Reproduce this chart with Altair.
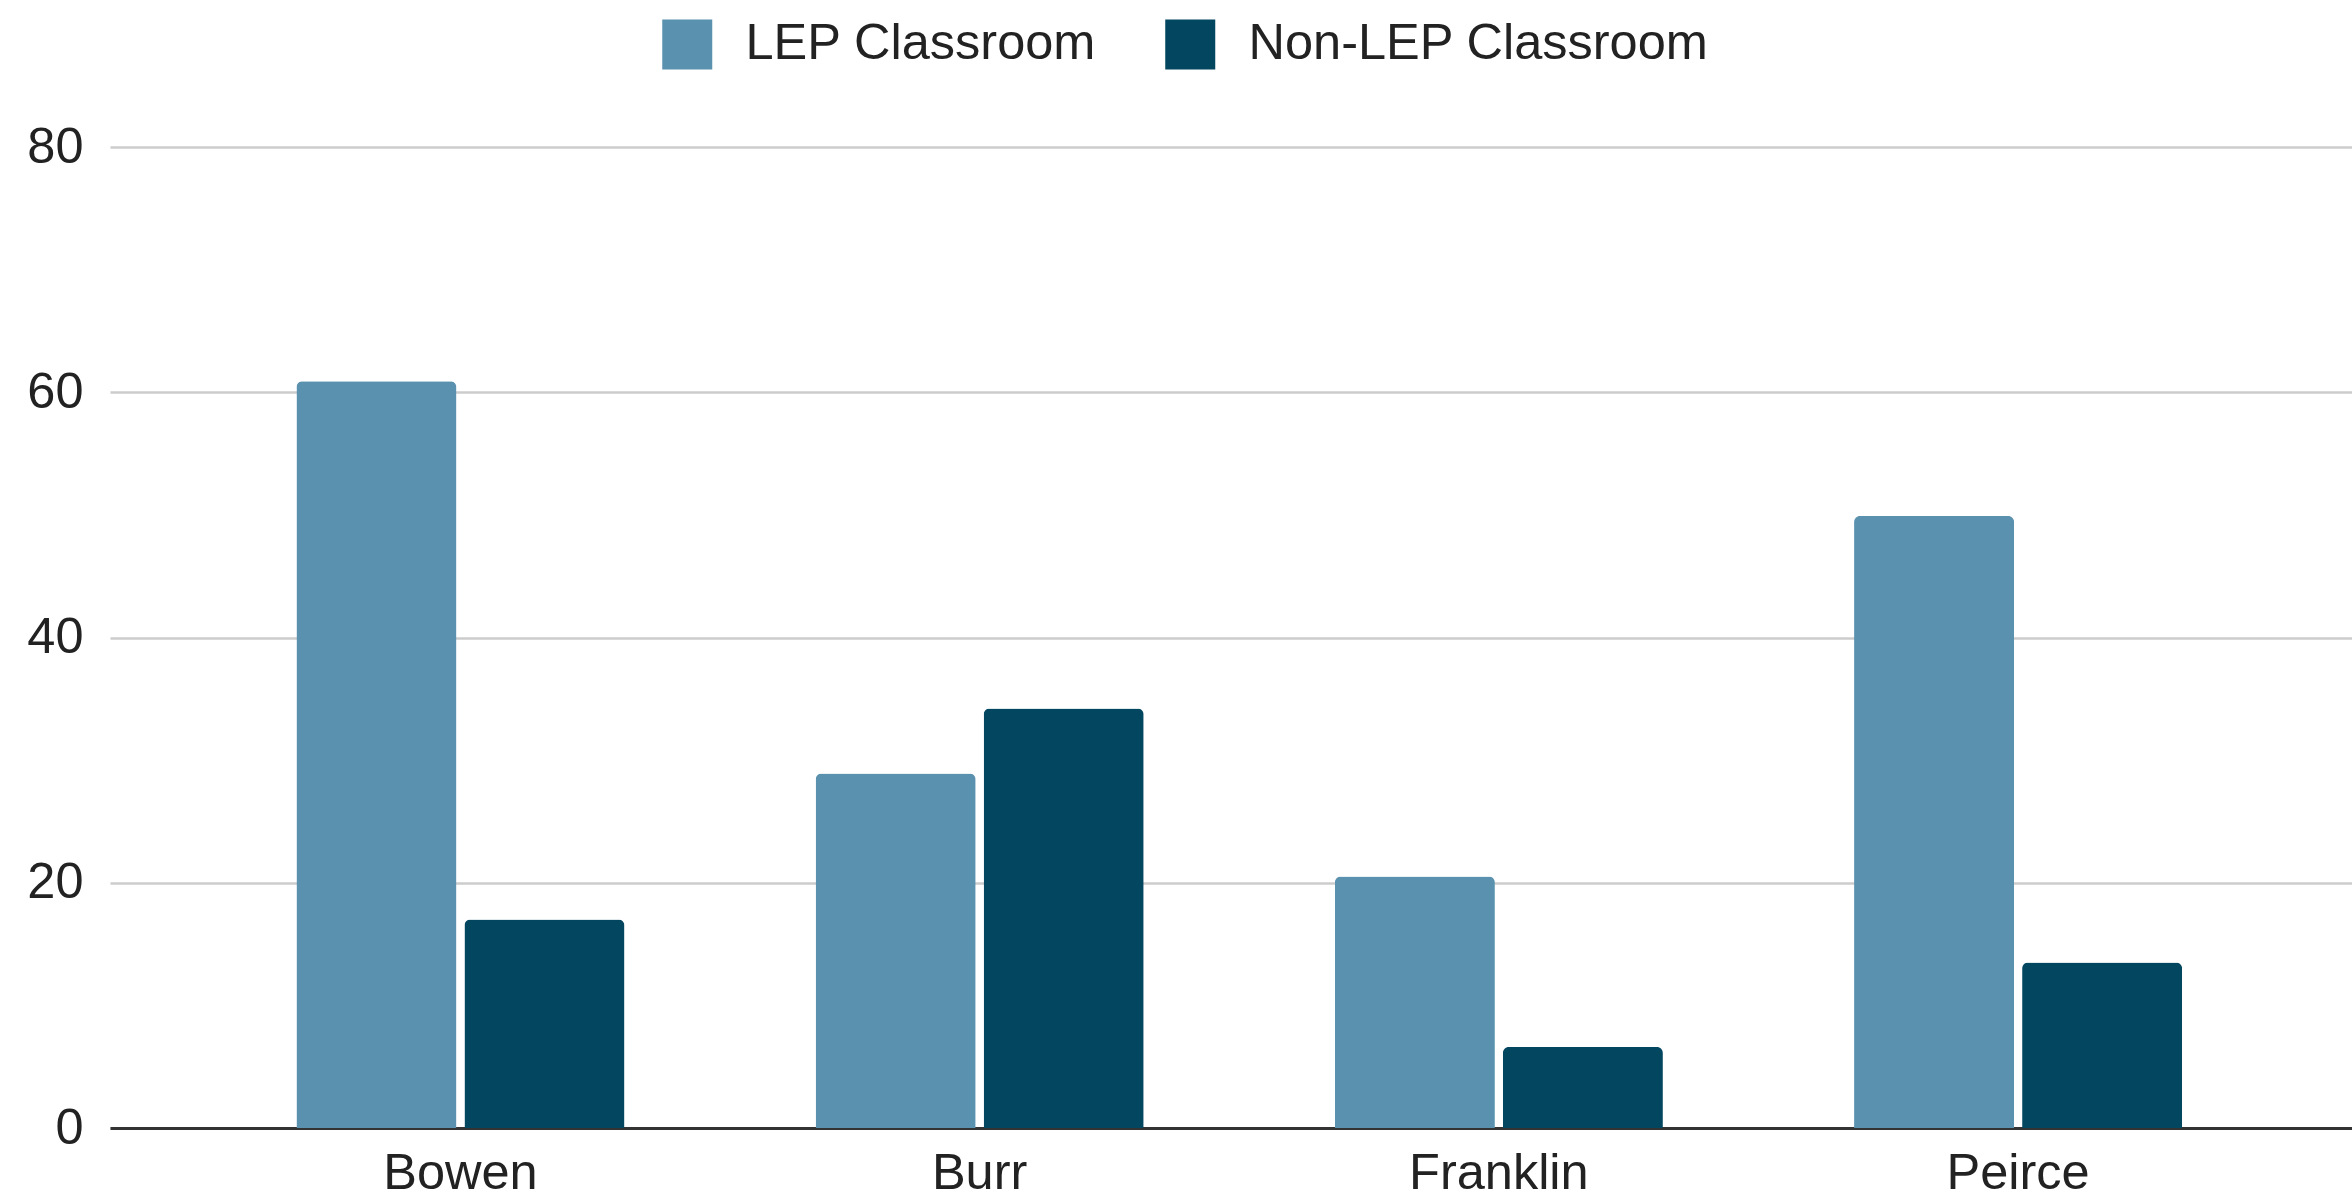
import altair as alt
import pandas as pd

schools = ["Bowen", "Burr", "Franklin", "Peirce"]
series = ["LEP Classroom", "Non-LEP Classroom"]
lep_values = [60.9, 28.9, 20.5, 49.9]
non_lep_values = [17.0, 34.2, 6.6, 13.5]
y_ticks = [0, 20, 40, 60, 80]
colors = ["#5A91AE", "#03465F"]

rows = []
for s, a, b in zip(schools, lep_values, non_lep_values):
    rows.append({"school": s, "series": series[0], "value": a})
    rows.append({"school": s, "series": series[1], "value": b})
df = pd.DataFrame(rows)

FONT = "Liberation Sans"
FS = 50.5

chart = (
    alt.Chart(df)
    .mark_bar(cornerRadiusTopLeft=6, cornerRadiusTopRight=6)
    .encode(
        x=alt.X(
            "school:N",
            sort=schools,
            title=None,
            scale=alt.Scale(paddingInner=0, paddingOuter=0.159, align=0.55),
            axis=alt.Axis(
                labelAngle=0,
                ticks=False,
                tickSize=0,
                domain=True,
                domainColor="#333333",
                domainWidth=3,
                labelFont=FONT,
                labelFontSize=FS,
                labelColor="#222222",
                labelBaseline="alphabetic",
                labelPadding=60,
                grid=False,
            ),
        ),
        xOffset=alt.XOffset(
            "series:N",
            sort=series,
            scale=alt.Scale(paddingInner=0.0476, paddingOuter=0.569),
        ),
        y=alt.Y(
            "value:Q",
            title=None,
            scale=alt.Scale(domain=[0, 80], nice=False),
            axis=alt.Axis(
                values=y_ticks,
                domain=False,
                ticks=False,
                tickSize=0,
                grid=True,
                gridColor="#cccccc",
                gridWidth=2.5,
                labelFont=FONT,
                labelFontSize=FS,
                labelColor="#222222",
                labelPadding=27,
                labelBaseline="middle",
            ),
        ),
        color=alt.Color(
            "series:N",
            sort=series,
            scale=alt.Scale(domain=series, range=colors),
            legend=alt.Legend(
                title=None,
                orient="none",
                direction="horizontal",
                legendX=552,
                legendY=-128,
                symbolType="square",
                symbolSize=2500,
                symbolStrokeWidth=0,
                labelFont=FONT,
                labelFontSize=FS,
                labelColor="#222222",
                labelLimit=1000,
                labelOffset=33,
                columnPadding=68,
            ),
        ),
    )
    .properties(
        width=2242,
        height=981,
        autosize=alt.AutoSizeParams(type="none"),
        padding={"left": 110, "top": 147, "right": 0, "bottom": 72},
        background="white",
    )
    .configure_view(stroke="transparent")
)

chart.save("out.html", embed_options={"renderer": "svg", "actions": False})
